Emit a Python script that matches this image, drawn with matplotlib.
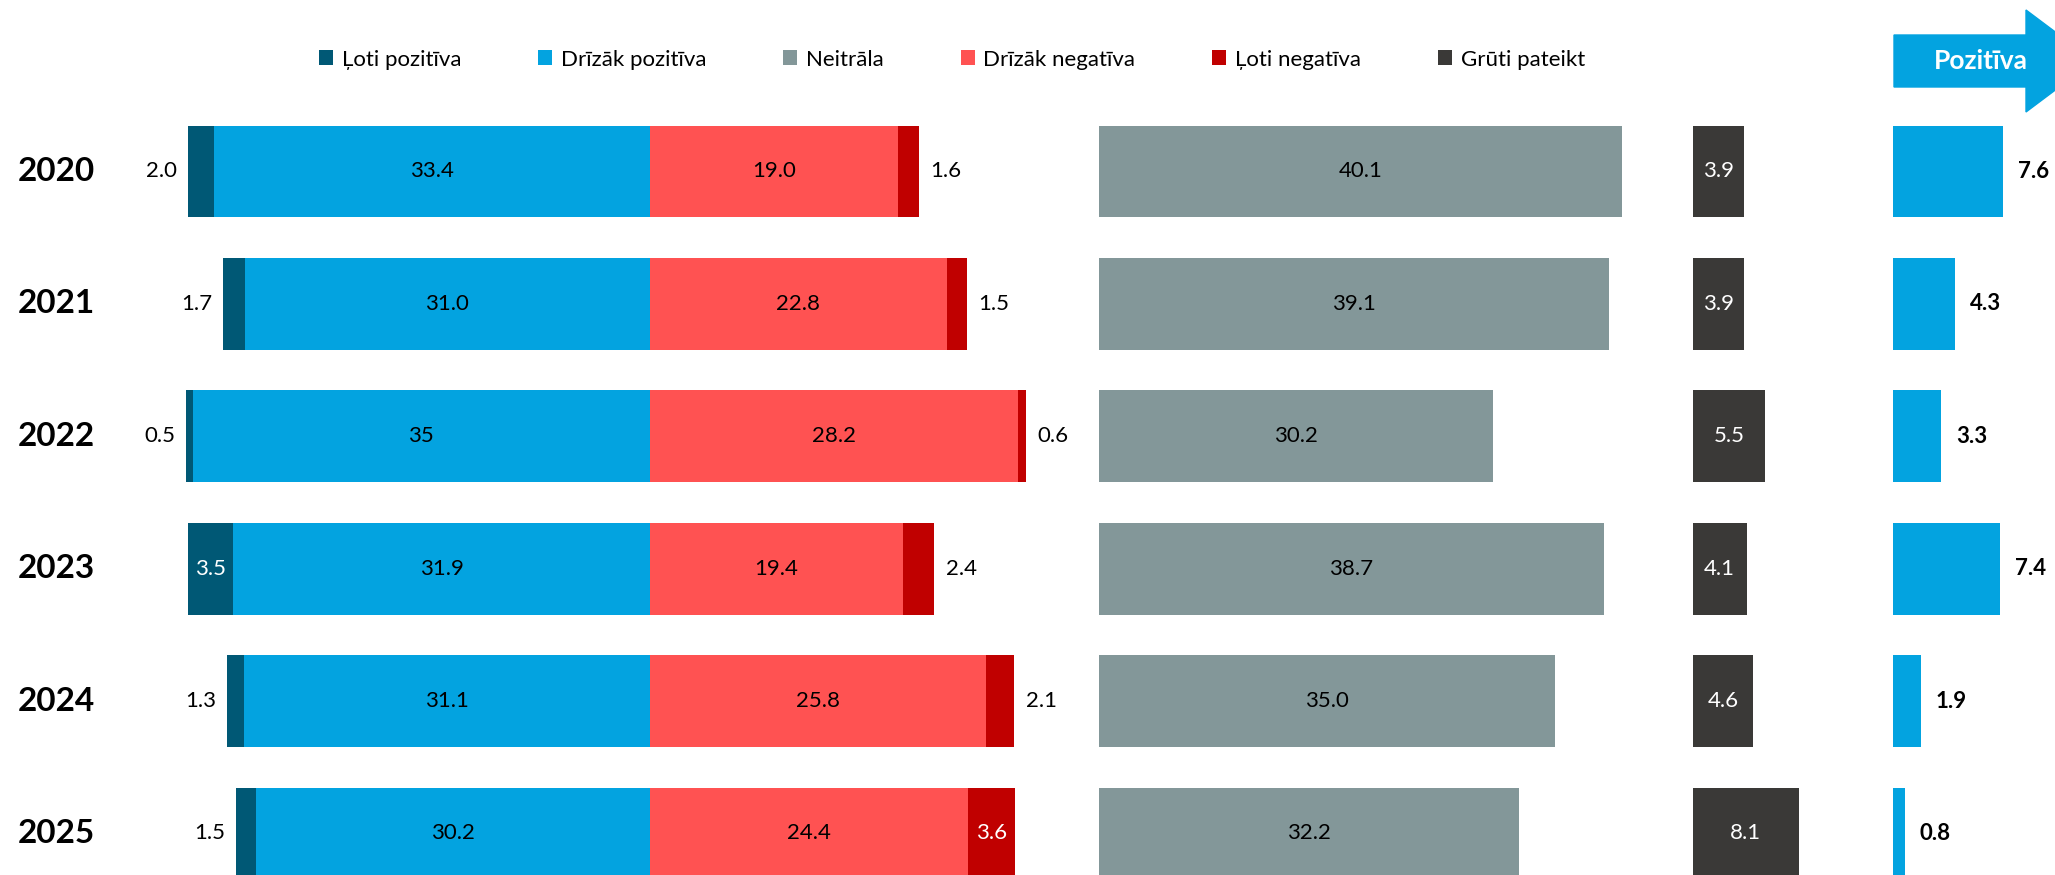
import numpy as np
import matplotlib
matplotlib.use('Agg')
import matplotlib.pyplot as plt
from matplotlib.patches import Patch, Polygon
from matplotlib.transforms import blended_transform_factory

plt.rcParams['font.family'] = ['Lato', 'DejaVu Sans']

# Data
years = ['2020', '2021', '2022', '2023', '2024', '2025']
very_pos = [2.0, 1.7, 0.5, 3.5, 1.3, 1.5]
rather_pos = [33.4, 31.0, 35.0, 31.9, 31.1, 30.2]
rather_pos_labels = ['33.4', '31.0', '35', '31.9', '31.1', '30.2']
neutral = [40.1, 39.1, 30.2, 38.7, 35.0, 32.2]
rather_neg = [19.0, 22.8, 28.2, 19.4, 25.8, 24.4]
very_neg = [1.6, 1.5, 0.6, 2.4, 2.1, 3.6]
hard_to_say = [3.9, 3.9, 5.5, 4.1, 4.6, 8.1]
net_positive = [7.6, 4.3, 3.3, 7.4, 1.9, 0.8]

categories = ['Ļoti pozitīva', 'Drīzāk pozitīva', 'Neitrāla',
              'Drīzāk negatīva', 'Ļoti negatīva', 'Grūti pateikt']
colors = ['#005875', '#03a3e0', '#839799', '#ff5252', '#c00000', '#3a3937']
c_vpos, c_rpos, c_neu, c_rneg, c_vneg, c_hard = colors

W, H = 2055, 875
fig = plt.figure(figsize=(W / 100, H / 100), dpi=100)

# layout (pixels)
px_per_unit = 13.05
center_px = 649.7
row_px = 132.4
first_row_px = 171.5
neutral_x0 = (1098.7 - center_px) / px_per_unit
hard_x0 = (1693 - center_px) / px_per_unit
bar_h = 0.692

ylim = ((H - first_row_px) / row_px, -first_row_px / row_px)

ax = fig.add_axes([0, 0, 1, 1])
ax.set_xlim(-center_px / px_per_unit, (W - center_px) / px_per_unit)
ax.set_ylim(*ylim)
ax.axis('off')

y = np.arange(len(years))
vp = np.array(very_pos)
rp = np.array(rather_pos)
rn = np.array(rather_neg)
vn = np.array(very_neg)
neu = np.array(neutral)
hd = np.array(hard_to_say)

ax.barh(y, rp, left=-rp, height=bar_h, color=c_rpos)
ax.barh(y, vp, left=-rp - vp, height=bar_h, color=c_vpos)
ax.barh(y, rn, left=0, height=bar_h, color=c_rneg)
ax.barh(y, vn, left=rn, height=bar_h, color=c_vneg)
ax.barh(y, neu, left=neutral_x0, height=bar_h, color=c_neu)
ax.barh(y, hd, left=hard_x0, height=bar_h, color=c_hard)

fs = 16
for i in range(len(years)):
    ax.text(-rp[i] / 2, i, rather_pos_labels[i], ha='center', va='center', fontsize=fs, color='black')
    ax.text(rn[i] / 2, i, f'{rn[i]:.1f}', ha='center', va='center', fontsize=fs, color='black')
    ax.text(neutral_x0 + neu[i] / 2, i, f'{neu[i]:.1f}', ha='center', va='center', fontsize=fs, color='black')
    ax.text(hard_x0 + hd[i] / 2, i, f'{hd[i]:.1f}', ha='center', va='center', fontsize=fs, color='white')
    # small segments: inside if wide enough, else outside
    if vp[i] >= 3:
        ax.text(-rp[i] - vp[i] / 2, i, f'{vp[i]:.1f}', ha='center', va='center', fontsize=fs, color='white')
    else:
        ax.annotate(f'{vp[i]:.1f}', (-rp[i] - vp[i], i), xytext=(-8, 0), textcoords='offset points',
                    ha='right', va='center', fontsize=fs, color='black')
    if vn[i] >= 3:
        ax.text(rn[i] + vn[i] / 2, i, f'{vn[i]:.1f}', ha='center', va='center', fontsize=fs, color='white')
    else:
        ax.annotate(f'{vn[i]:.1f}', (rn[i] + vn[i], i), xytext=(8.5, 0), textcoords='offset points',
                    ha='left', va='center', fontsize=fs, color='black')

# year labels
tr = blended_transform_factory(ax.transAxes, ax.transData)
for i, yr in enumerate(years):
    ax.text(18 / W, i, yr, transform=tr, ha='left', va='center', fontsize=24, fontweight='bold')

# net positive column
ax2 = fig.add_axes([1893 / W, 0, (W - 1893) / W, 1])
ax2.set_xlim(0, (W - 1893) / 14.5)
ax2.set_ylim(*ylim)
ax2.axis('off')
ax2.barh(y, net_positive, height=bar_h, color=c_rpos)
for i, v in enumerate(net_positive):
    ax2.annotate(f'{v:.1f}', (v, i), xytext=(10.8, 0), textcoords='offset points',
                 ha='left', va='center', fontsize=fs, fontweight='bold', color='black')

# arrow header
arrow_px = [(1894, 35), (2026, 35), (2026, 10), (2094, 61), (2026, 112), (2026, 87), (1894, 87)]
arrow = Polygon([(px / W, 1 - py / H) for px, py in arrow_px], closed=True,
                transform=fig.transFigure, color=c_rpos, clip_on=False)
fig.patches.append(arrow)
fig.text(1981 / W, 1 - 61 / H, 'Pozitīva', ha='center', va='center', fontsize=19,
         fontweight='bold', color='white')

# legend
handles = [Patch(facecolor=c, edgecolor='none') for c in colors]
fig.legend(handles, categories, loc='center', bbox_to_anchor=(952 / W, 1 - 59.5 / H),
           ncol=6, frameon=False, fontsize=16, handlelength=0.63, handleheight=0.63,
           handletextpad=0.4, columnspacing=3.45, borderpad=0)

fig.savefig('out.png', dpi=100)
